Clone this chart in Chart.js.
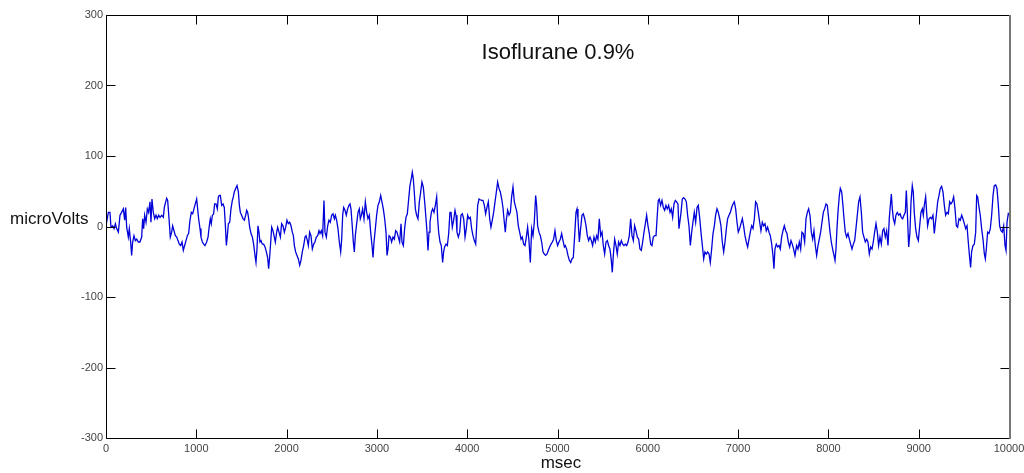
<!DOCTYPE html>
<html>
<head>
<meta charset="utf-8">
<script src="https://cdn.jsdelivr.net/npm/chart.js@4.4.1/dist/chart.umd.min.js"></script>
<style>
  html, body { margin: 0; padding: 0; background: #fff; }
  canvas { display: block; }
</style>
</head>
<body>
<canvas id="eeg" width="1024" height="473"></canvas>
<script>
// EEG trace: time (msec) and amplitude (microVolts)
const TIMES = [
  0, 26, 44, 55, 74, 89, 104, 118, 137, 155, 173, 192, 207, 218, 229, 247, 258, 273, 284, 295,
  310, 325, 340, 358, 376, 395, 406, 417, 428, 443, 458, 472, 487, 498, 509, 524, 539, 554, 568, 583,
  598, 617, 635, 646, 661, 672, 683, 698, 712, 727, 738, 753, 768, 783, 797, 812, 827, 842, 856, 871,
  886, 901, 915, 930, 945, 960, 974, 989, 1004, 1015, 1026, 1041, 1052, 1067, 1082, 1096, 1115, 1130, 1144, 1155,
  1166, 1178, 1192, 1203, 1218, 1233, 1244, 1255,
  1266, 1281, 1296, 1310, 1322, 1333, 1344, 1355, 1370, 1384, 1399, 1410, 1421, 1436, 1451, 1466, 1477, 1488, 1502, 1517,
  1532, 1547, 1558, 1569, 1580, 1591, 1606, 1621, 1635, 1650, 1661, 1672, 1683, 1694, 1705, 1717, 1731, 1746, 1761, 1776,
  1790, 1801, 1812, 1824, 1835, 1849, 1864, 1875, 1890, 1901, 1916, 1931, 1945, 1960, 1975, 1990, 2004, 2019, 2034, 2049,
  2063, 2075, 2086, 2100, 2115, 2130, 2145, 2159, 2174, 2189, 2204, 2215, 2230, 2241, 2255, 2270, 2285, 2300, 2314, 2329,
  2344, 2359, 2370, 2385, 2399, 2414, 2425, 2440, 2455, 2469, 2484, 2499, 2514, 2529,
  2540, 2554, 2569, 2584, 2599, 2610, 2621, 2632, 2647, 2661, 2676, 2691, 2702, 2713, 2724, 2739, 2750, 2761, 2776, 2791,
  2805, 2816, 2828, 2842, 2857, 2872, 2887, 2901, 2916, 2931, 2946, 2957, 2968, 2983, 2997, 3012, 3027, 3042, 3056, 3071,
  3086, 3101, 3112, 3123, 3134, 3149, 3163, 3178, 3193, 3208, 3222, 3237, 3252, 3267, 3278, 3293, 3307, 3322, 3337, 3352,
  3366, 3381, 3392, 3403, 3414, 3426, 3440, 3455, 3470, 3485, 3499, 3514, 3529, 3544, 3555, 3566, 3577, 3588, 3603, 3617,
  3632, 3647, 3662, 3673, 3684, 3699, 3713, 3728, 3739, 3750, 3765, 3780, 3795, 3809,
  3821, 3835, 3850, 3865, 3876, 3887, 3902, 3917, 3931, 3946, 3961, 3976, 3990, 4005, 4020, 4035, 4049, 4064, 4079, 4094,
  4105, 4116, 4131, 4145, 4160, 4175, 4190, 4204, 4219, 4234, 4249, 4263, 4278, 4293, 4308, 4323, 4337, 4352, 4367, 4382,
  4396, 4411, 4422, 4433, 4448, 4463, 4478, 4492, 4507, 4522, 4537, 4551, 4566, 4581, 4596, 4610, 4625, 4640, 4655, 4669,
  4684, 4699, 4714, 4729, 4743, 4758, 4769, 4780, 4795, 4810, 4825, 4839, 4854, 4869, 4884, 4898, 4913, 4928, 4943, 4957,
  4972, 4987, 5002, 5016, 5031, 5046, 5061, 5076,
  5087, 5101, 5116, 5131, 5146, 5160, 5175, 5190, 5205, 5216, 5227, 5242, 5256, 5271, 5286, 5301, 5316, 5330, 5345, 5360,
  5375, 5389, 5404, 5419, 5434, 5448, 5463, 5478, 5493, 5507, 5522, 5537, 5552, 5566, 5581, 5596, 5607, 5618, 5633, 5648,
  5662, 5677, 5692, 5707, 5722, 5736, 5751, 5766, 5781, 5795, 5810, 5825, 5840, 5854, 5869, 5884, 5899, 5913, 5928, 5943,
  5958, 5973, 5987, 6002, 6017, 6032, 6046, 6061, 6076, 6091, 6105, 6116, 6127, 6142, 6157, 6172, 6187, 6201, 6216, 6231,
  6246, 6260, 6275, 6290, 6305, 6319, 6334, 6345,
  6368, 6382, 6397, 6412, 6427, 6441, 6456, 6471, 6486, 6500, 6515, 6530, 6545, 6559, 6574, 6589, 6604, 6619, 6633, 6648,
  6663, 6678, 6692, 6707, 6722, 6737, 6751, 6766, 6781, 6796, 6810, 6825, 6840, 6855, 6870, 6884, 6899, 6914, 6929, 6943,
  6958, 6973, 6988, 7002, 7017, 7032, 7047, 7061, 7076, 7091, 7106, 7121, 7135, 7150, 7165, 7180, 7194, 7209, 7224, 7239,
  7253, 7268, 7283, 7298, 7312, 7327, 7342, 7357, 7372, 7386, 7397, 7408, 7423, 7438, 7453, 7467, 7482, 7497, 7512, 7527,
  7541, 7556, 7571, 7586, 7600, 7615, 7630,
  7648, 7663, 7678, 7693, 7707, 7722, 7737, 7752, 7767, 7781, 7796, 7811, 7826, 7840, 7855, 7870, 7885, 7899, 7914, 7929,
  7944, 7958, 7973, 7988, 8003, 8018, 8032, 8047, 8062, 8073, 8084, 8095, 8106, 8121, 8132, 8147, 8161, 8173, 8187, 8202,
  8217, 8232, 8246, 8261, 8276, 8291, 8305, 8320, 8335, 8350, 8365, 8379, 8394, 8409, 8424, 8438, 8453, 8468, 8483, 8497,
  8512, 8527, 8542, 8556, 8571, 8586, 8601, 8615, 8630, 8645, 8660, 8674, 8686, 8697, 8708, 8719, 8734, 8748, 8763, 8778,
  8793, 8807, 8822, 8837, 8852, 8863, 8874, 8889, 8903,
  8915, 8929, 8940, 8951, 8966, 8981, 8996, 9011, 9025, 9040, 9051, 9062, 9077, 9088, 9099, 9114, 9129, 9143, 9158, 9173,
  9184, 9195, 9210, 9225, 9239, 9254, 9269, 9284, 9298, 9313, 9328, 9343, 9357, 9372, 9387, 9402, 9417, 9431, 9446, 9461,
  9476, 9490, 9505, 9520, 9535, 9549, 9564, 9575, 9586, 9601, 9616, 9631, 9642, 9653, 9668, 9682, 9697, 9712, 9727, 9738,
  9749, 9763, 9778, 9793, 9808, 9823, 9837, 9852, 9867, 9882, 9896, 9911, 9926, 9941, 9956, 9967, 9978, 9992, 10000,
];

const MICROVOLTS = [
  1, 20, 20, -1, 1, -3, 4, -3, -8, 16, 20, 25, 9, 27, -1, -15, -3, -22, -41, -22,
  -13, -20, -18, -22, -22, -15, 11, -3, 16, 6, 25, 20, 35, 6, 39, 20, 11, 16, 11, 16,
  13, 16, 13, 27, 35, 40, 37, 11, -15, -8, 1, -6, -13, -15, -20, -25, -27, -22, -34, -27,
  -20, -13, -10, 9, 20, 18, 25, 32, 39, 25, 11, -3, -15, -22, -25, -27, -22, -15, 1, 11,
  4, 16, 18, 32, 32, 25, 42, 44,
  44, 30, 32, 27, 1, -27, -13, 4, 6, 25, 37, 42, 49, 54, 58, 49, 30, 20, 16, 11,
  9, 16, 23, 20, 11, -1, -10, -15, -25, -41, -51, -32, 1, -8, -22, -20, -25, -25, -29, -36,
  -44, -60, -44, -22, -1, -6, -15, -22, -8, -1, -8, -15, 4, 1, -8, -1, 9, 4, 6, 1,
  -8, -13, -27, -36, -41, -46, -55, -48, -36, -27, -15, -13, -20, -27, -8, -13, -32, -25, -22, -15,
  -13, -6, -10, -6, -13, 37, -8, -15, 1, 9, 6, 16, 18, 11,
  16, 9, -3, -22, -36, -18, 16, 27, 23, 16, 25, 30, 32, 25, 6, -22, -36, -13, 4, 20,
  25, 11, 16, 25, 11, 35, 20, 11, 16, -8, -27, -44, -22, -3, 16, 30, 35, 44, 35, 25,
  11, -8, -41, -32, -13, -15, -22, -15, -18, -6, -8, -15, -22, 4, -22, -27, -3, 13, 18, 39,
  58, 68, 77, 68, 49, 25, 16, 11, 35, 49, 63, 56, 35, 11, -8, -34, -8, 6, 20, 25,
  20, 30, 42, 11, -8, -22, -27, -51, -36, -29, -25, -27, -10, 20,
  20, -1, 9, 23, 16, -8, -15, -8, 16, 18, 11, -15, -3, 16, 11, 13, -3, -13, -20, -25,
  1, 30, 39, 38, 37, 37, 30, 18, 27, 35, 11, -1, 9, 20, 35, 49, 63, 54, 49, 39,
  27, 6, -8, 9, 23, 16, 20, 42, 56, 35, 27, 20, 1, -8, -18, -15, -25, -27, -15, -1,
  -20, -51, -3, -13, 6, 44, 30, 1, -8, -13, -22, -36, -39, -41, -39, -34, -29, -25, -22, -18,
  -6, -20, -27, -22, -18, -10, -20, -29,
  -27, -32, -41, -48, -51, -46, -44, -13, 20, 25, 11, -22, -3, 16, 18, 11, 1, -13, -20, -15,
  -20, -27, -15, -22, -13, -18, 11, -13, -8, -27, -39, -22, -20, -27, -32, -48, -65, -41, -18, -27,
  -39, -22, -27, -20, -25, -27, -25, -27, -22, -13, 11, -13, -20, 1, -6, -15, -18, -32, -34, -22,
  -8, 4, 16, 1, -10, -25, -27, -15, -13, -13, 16, 37, 39, 30, 37, 27, 23, 30, 25, 30,
  20, 25, 13, 32, 37, 35, 32, -3,
  20, 39, 41, 39, 35, 16, 1, -27, -8, 6, 20, 6, 27, 30, 13, -8, -27, -46, -36, -39,
  -36, -39, -51, -32, -10, 1, 16, 25, 20, 11, 1, -22, -36, -22, -3, 11, 16, 20, 27, 32,
  35, 25, 6, -8, -3, 4, 11, 1, -13, -22, -29, -18, -8, 1, -3, 11, 35, 32, 20, 6,
  -6, 6, 1, 4, -6, -1, -8, -13, -25, -41, -60, -32, -25, -29, -27, -32, -15, -6, 1, -6,
  -10, -22, -29, -20, -25, -32, -41,
  -27, -32, -22, -32, -8, -10, -22, 11, 20, 25, 16, -8, -18, -6, -27, -41, -27, -18, -8, 6,
  20, 25, 32, 30, 11, -8, -22, -32, -41, -48, -32, -3, 20, 44, 54, 49, 30, 11, -8, -15,
  -10, -18, -25, -32, -25, -20, -3, 16, 35, 42, 20, -8, -15, -22, -18, -22, -39, -29, -32, -22,
  -8, 4, -8, -27, -15, -25, -6, -3, -15, -6, -27, 11, 30, 46, 25, 11, 4, 16, 20, 16,
  18, 13, 11, 16, 20, 51, 20, -29, -8,
  35, 58, 49, 20, -3, -15, -20, 1, 20, 25, 16, 30, 42, 20, 1, 11, 13, 11, 16, -10,
  4, 16, 35, 44, 54, 57, 49, 30, 16, 20, 18, 35, 32, 35, 42, 25, 1, -1, 11, 9,
  16, 11, 4, -3, 1, -22, -44, -58, -36, -27, -25, -8, 44, 42, 27, 16, -3, -18, -39, -46,
  -32, -8, -10, -3, 16, 44, 58, 59, 54, 30, 1, -6, -8, 1, -27, -34, 6, 18, 16,
];

const X_TICKS = [0, 1000, 2000, 3000, 4000, 5000, 6000, 7000, 8000, 9000, 10000];
const Y_TICKS = [-300, -200, -100, 0, 100, 200, 300];

const TITLE = 'Isoflurane 0.9%';
const Y_LABEL = 'microVolts';
const X_LABEL = 'msec';

const TICK_LEN = 9;
const LABEL_FONT = '17px "Liberation Sans", Arial, sans-serif';
const TICK_FONT = { family: '"Liberation Sans", Arial, sans-serif', size: 11 };

const n = Math.min(TIMES.length, MICROVOLTS.length);
const points = [];
for (let i = 0; i < n; i++) points.push({ x: TIMES[i], y: MICROVOLTS[i] });

// Matlab style frame: box, inward ticks on all four sides, free-floating labels
const framePlugin = {
  id: 'frame',
  afterDatasetsDraw(chart) {
    const { ctx, chartArea: a, scales } = chart;
    const left = Math.round(a.left) + 0.5;
    const right = Math.round(a.right) + 0.5;
    const top = Math.round(a.top) + 0.5;
    const bottom = Math.round(a.bottom) + 0.5;

    ctx.save();
    ctx.strokeStyle = '#000';
    ctx.lineWidth = 1;
    ctx.beginPath();
    X_TICKS.forEach((v) => {
      const px = Math.round(scales.x.getPixelForValue(v)) + 0.5;
      ctx.moveTo(px, bottom);
      ctx.lineTo(px, bottom - TICK_LEN);
      ctx.moveTo(px, top);
      ctx.lineTo(px, top + TICK_LEN);
    });
    Y_TICKS.forEach((v) => {
      const py = Math.round(scales.y.getPixelForValue(v)) + 0.5;
      ctx.moveTo(left, py);
      ctx.lineTo(left + TICK_LEN, py);
      ctx.moveTo(right, py);
      ctx.lineTo(right - TICK_LEN, py);
    });
    ctx.moveTo(left, top);
    ctx.lineTo(right, top);
    ctx.moveTo(left, top);
    ctx.lineTo(left, bottom);
    ctx.lineTo(right, bottom);
    ctx.stroke();

    ctx.strokeStyle = '#777';
    ctx.lineWidth = 2;
    ctx.beginPath();
    ctx.moveTo(right + 0.5, top - 0.5);
    ctx.lineTo(right + 0.5, bottom + 0.5);
    ctx.stroke();

    ctx.fillStyle = '#111';
    ctx.font = '22px "Liberation Sans", Arial, sans-serif';
    ctx.textAlign = 'center';
    ctx.textBaseline = 'alphabetic';
    ctx.fillText(TITLE, 558, 59);

    ctx.font = LABEL_FONT;
    ctx.textAlign = 'left';
    ctx.fillText(Y_LABEL, 10, 224);

    ctx.textAlign = 'center';
    ctx.fillText(X_LABEL, 561, 468);
    ctx.restore();
  },
};

new Chart(document.getElementById('eeg'), {
  type: 'line',
  data: {
    datasets: [{
      data: points,
      borderColor: '#0000d8',
      borderWidth: 1.3,
      pointRadius: 0,
      tension: 0,
      fill: false,
    }],
  },
  options: {
    responsive: false,
    animation: false,
    devicePixelRatio: 1,
    layout: { padding: { top: 15, right: 15, left: 0, bottom: 0 } },
    plugins: {
      legend: { display: false },
      tooltip: { enabled: false },
      title: { display: false },
    },
    scales: {
      x: {
        type: 'linear',
        min: 0,
        max: 10000,
        afterBuildTicks: (scale) => { scale.ticks = X_TICKS.map((v) => ({ value: v })); },
        afterFit: (scale) => {
          scale.height = 35;
          scale.paddingLeft = 0;
          scale.paddingRight = 0;
        },
        grid: { display: false, drawTicks: false },
        border: { display: false },
        ticks: {
          autoSkip: false,
          maxRotation: 0,
          padding: 4,
          color: '#444',
          font: TICK_FONT,
          callback: (v) => String(v),
        },
      },
      y: {
        type: 'linear',
        min: -300,
        max: 300,
        afterBuildTicks: (scale) => { scale.ticks = Y_TICKS.map((v) => ({ value: v })); },
        afterFit: (scale) => {
          scale.width = 106;
          scale.paddingTop = 0;
          scale.paddingBottom = 0;
        },
        grid: { display: false, drawTicks: false },
        border: { display: false },
        ticks: {
          padding: 3,
          color: '#444',
          font: TICK_FONT,
          callback: (v) => String(v),
        },
      },
    },
  },
  plugins: [framePlugin],
});
</script>
</body>
</html>
